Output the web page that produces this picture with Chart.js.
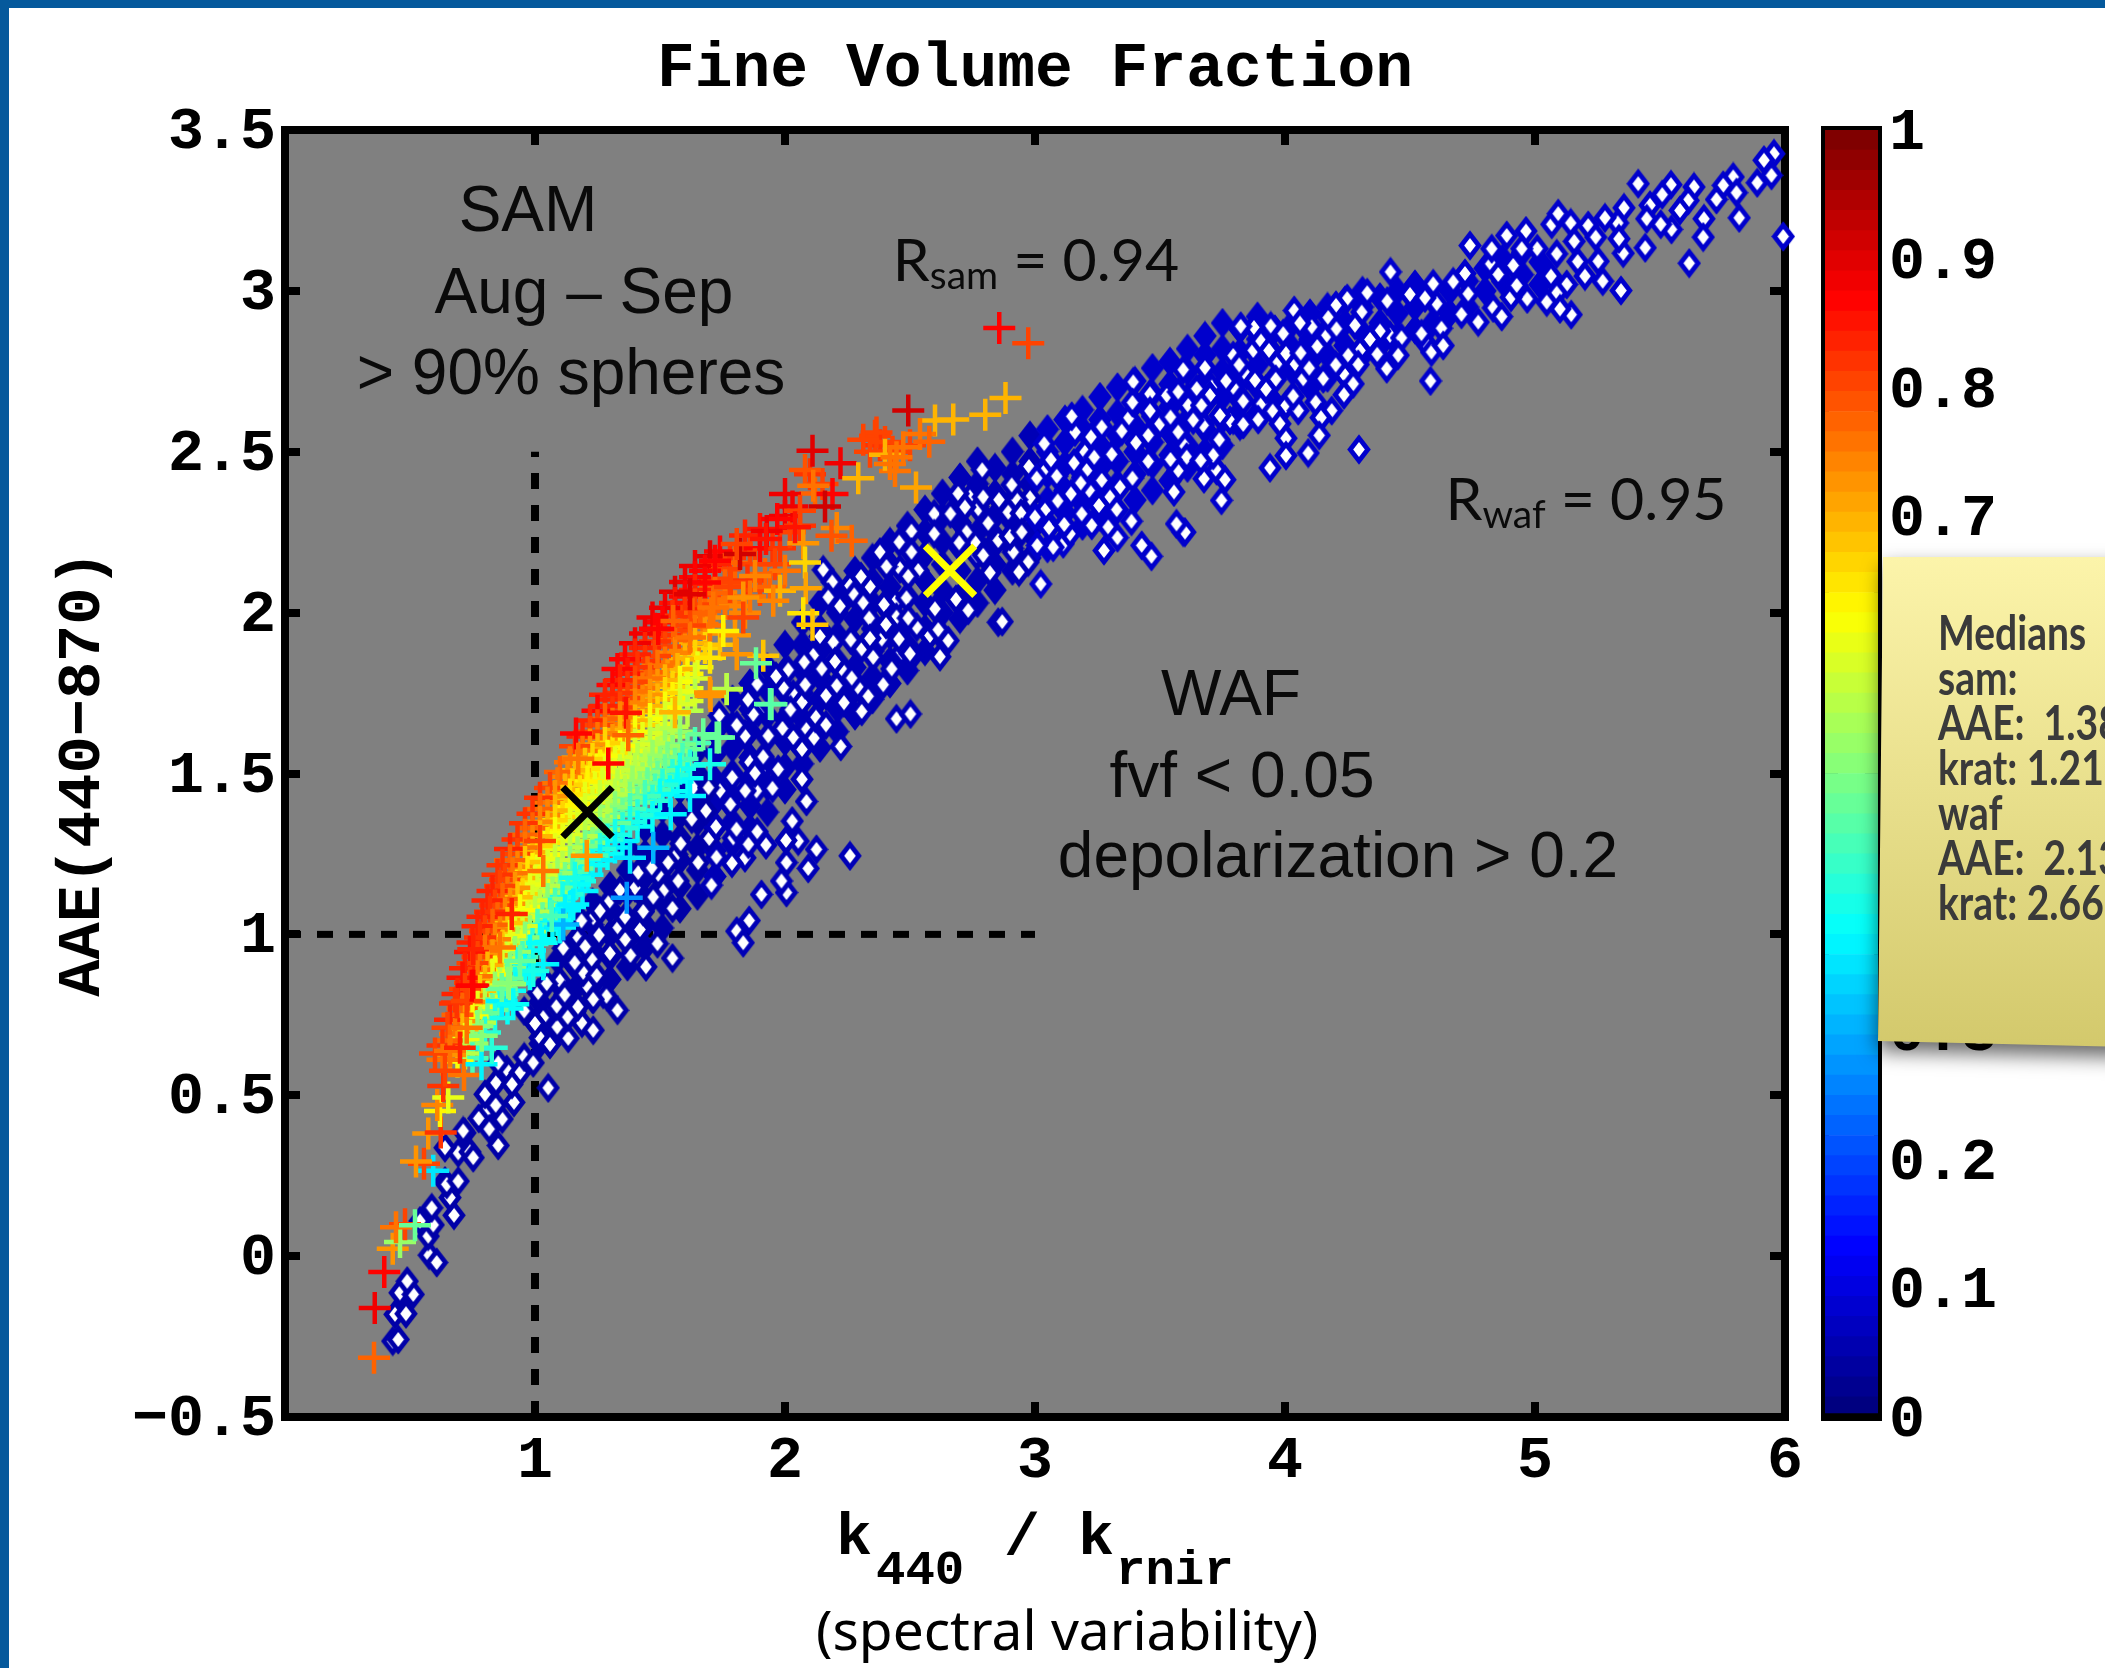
<!DOCTYPE html>
<html>
<head>
<meta charset="utf-8">
<script src="https://cdn.jsdelivr.net/npm/chart.js"></script>
<style>
  html, body { margin:0; padding:0; background:#fff; width:2105px; height:1668px; overflow:hidden; }
  canvas { position:absolute; left:0; top:0; }
  .edge { position:absolute; background:#05599c; }
  .lbl { position:absolute; transform:translate(-50%,-50%); white-space:nowrap; color:#0a0a0a; line-height:1; font-family:"Liberation Sans",sans-serif; font-size:64px; }
  .gill { font-family:Lato,sans-serif; font-size:59px; }
  .gill sub { font-size:39px; vertical-align:baseline; position:relative; top:8px; }
  .xlab { position:absolute; white-space:nowrap; font:bold 60px "Liberation Mono",monospace; color:#000; line-height:1; }
  .xlab.s { font-size:49px; }
  #note { position:absolute; left:1870px; top:549px; width:260px; height:510px; filter:drop-shadow(0 10px 10px rgba(0,0,0,.6)); }
  #paper { position:absolute; left:8px; top:8px; width:252px; height:490px;
    background:linear-gradient(#fcf4aa,#d3c96c);
    clip-path:polygon(5px 0,100% 0,100% 100%,0 98.8%,2px 60%); }
  #memo { position:absolute; left:1938px; top:610px; font:bold 47px/45px Lato,sans-serif; color:#3a3a3a; white-space:pre; transform:scaleX(.83); transform-origin:left top; }
</style>
</head>
<body>
<canvas id="barChart" width="2105" height="1668"></canvas>
<canvas id="myChart" width="2105" height="1668"></canvas>
<div class="edge" style="left:0;top:0;width:2105px;height:8px"></div>
<div class="edge" style="left:0;top:0;width:9px;height:1668px"></div>

<div class="lbl" style="left:528px;top:209px">SAM</div>
<div class="lbl" style="left:584px;top:291px">Aug – Sep</div>
<div class="lbl" style="left:571px;top:372px">&gt; 90% spheres</div>
<div class="lbl gill" style="left:1036px;top:258px">R<sub>sam</sub> = 0.94</div>
<div class="lbl gill" style="left:1586px;top:497px">R<sub>waf</sub> = 0.95</div>
<div class="lbl" style="left:1231px;top:693px">WAF</div>
<div class="lbl" style="left:1242px;top:775px">fvf &lt; 0.05</div>
<div class="lbl" style="left:1338px;top:855px">depolarization &gt; 0.2</div>

<div class="xlab" style="left:836px;top:1508px">k</div>
<div class="xlab s" style="left:876px;top:1547px">440</div>
<div class="xlab" style="left:1004px;top:1508px">/</div>
<div class="xlab" style="left:1078px;top:1508px">k</div>
<div class="xlab s" style="left:1116px;top:1547px">rnir</div>
<div class="xlab" style="left:816px;top:1596px;font:55px 'Noto Sans',sans-serif;line-height:1.2">(spectral variability)</div>

<div id="note"><div id="paper"></div></div>
<div id="memo">Medians
sam:
AAE:  1.38
krat: 1.21
waf
AAE:  2.13
krat: 2.66</div>

<script>
// values
var chartTitle = 'Fine Volume Fraction';
var yTitle = 'AAE(440\u2212870)';
var vLineX = [1, 1], vLineY = [-0.5, 2.5];
var hLineX = [0, 3], hLineY = [1, 1];
var samMedianX = [1.21], samMedianY = [1.38];
var wafMedianX = [2.66], wafMedianY = [2.13];
var barTicks = [0, 0.1, 0.2, 0.3, 0.4, 0.5, 0.6, 0.7, 0.8, 0.9, 1];

// WAF diamonds buried in the band, drawn solid since their centres never show
var wafHiddenX = [
 1.02,1.02,1.02, 1.09,1.09,1.09,1.09, 1.16,1.16,1.16,1.16, 1.23,1.23,1.23,1.23,1.23, 1.30,1.30,1.30,1.30,1.30,
 1.37,1.37,1.37,1.37,1.37,1.37, 1.44,1.44,1.44,1.44,1.44,1.44, 1.51,1.51,1.51,1.51,1.51,1.51, 1.58,1.58,1.58,1.58,1.58,1.58,
 1.65,1.65,1.65,1.65,1.65,1.65,1.65, 1.72,1.72,1.72,1.72,1.72,1.72,1.72, 1.79,1.79,1.79,1.79,1.79,1.79,1.79,
 1.86,1.86,1.86,1.86,1.86,1.86,1.86, 1.93,1.93,1.93,1.93,1.93,1.93,1.93, 2.0,2.0,2.0,2.0,2.0,2.0,2.0,
 2.07,2.07,2.07,2.07,2.07,2.07,2.07, 2.14,2.14,2.14,2.14,2.14,2.14,2.14, 2.21,2.21,2.21,2.21,2.21,2.21,2.21,
 2.28,2.28,2.28,2.28,2.28,2.28,2.28, 2.35,2.35,2.35,2.35,2.35,2.35,2.35, 2.42,2.42,2.42,2.42,2.42,2.42,2.42,
 2.49,2.49,2.49,2.49,2.49,2.49,2.49, 2.56,2.56,2.56,2.56,2.56,2.56,2.56, 2.63,2.63,2.63,2.63,2.63,2.63,2.63,
 2.70,2.70,2.70,2.70,2.70,2.70,2.70, 2.77,2.77,2.77,2.77,2.77,2.77,2.77, 2.84,2.84,2.84,2.84,2.84,2.84,
 2.91,2.91,2.91,2.91,2.91,2.91, 2.98,2.98,2.98,2.98,2.98,2.98, 3.05,3.05,3.05,3.05,3.05,3.05,
 3.12,3.12,3.12,3.12,3.12,3.12, 3.19,3.19,3.19,3.19,3.19,3.19, 3.26,3.26,3.26,3.26,3.26,3.26,
 3.33,3.33,3.33,3.33,3.33,3.33, 3.4,3.4,3.4,3.4,3.4,3.4, 3.47,3.47,3.47,3.47,3.47,3.47,
 3.54,3.54,3.54,3.54,3.54,3.54, 3.61,3.61,3.61,3.61,3.61,3.61, 3.68,3.68,3.68,3.68,3.68,3.68,
 3.75,3.75,3.75,3.75,3.75,3.75, 3.82,3.82,3.82,3.82,3.82, 3.89,3.89,3.89,3.89,3.89,
 3.96,3.96,3.96,3.96, 4.03,4.03,4.03,4.03, 4.1,4.1,4.1,4.1, 4.17,4.17,4.17,4.17, 4.24,4.24,4.24,4.24,
 4.31,4.31,4.31,4.31, 4.38,4.38,4.38, 4.45,4.45,4.45, 4.52,4.52,4.52, 4.59,4.59, 4.66,4.66, 4.73,4.73,
 4.8,4.8, 4.87,4.87, 4.95,4.95, 5.02,5.02
];
var wafHiddenY = [
 .66,.72,.79, .70,.78,.85,.92, .76,.83,.90,.98, .80,.88,.95,1.03,1.10, .86,.93,1.0,1.08,1.15,
 .90,.98,1.05,1.13,1.2,1.27, .96,1.03,1.11,1.18,1.25,1.33, 1.02,1.1,1.17,1.24,1.31,1.39, 1.08,1.15,1.23,1.30,1.37,1.45,
 1.12,1.2,1.27,1.35,1.42,1.5,1.57, 1.18,1.26,1.33,1.41,1.48,1.56,1.63, 1.28,1.35,1.43,1.5,1.58,1.65,1.73,
 1.33,1.4,1.48,1.55,1.63,1.7,1.78, 1.38,1.46,1.53,1.61,1.68,1.76,1.83, 1.45,1.52,1.6,1.67,1.75,1.82,1.9,
 1.53,1.6,1.67,1.75,1.82,1.9,1.97, 1.58,1.65,1.73,1.8,1.88,1.95,2.03, 1.63,1.7,1.78,1.85,1.93,2.0,2.07,
 1.68,1.76,1.83,1.9,1.98,2.05,2.13, 1.73,1.8,1.88,1.95,2.03,2.1,2.17, 1.78,1.85,1.93,2.0,2.08,2.15,2.22,
 1.82,1.9,1.97,2.05,2.12,2.2,2.27, 1.88,1.95,2.03,2.1,2.18,2.25,2.32, 1.92,2.0,2.07,2.15,2.22,2.3,2.37,
 1.98,2.05,2.13,2.2,2.28,2.35,2.42, 2.03,2.1,2.18,2.25,2.33,2.4,2.47, 2.07,2.15,2.22,2.3,2.37,2.45,
 2.13,2.2,2.28,2.35,2.43,2.5, 2.17,2.25,2.32,2.4,2.47,2.55, 2.2,2.28,2.35,2.43,2.5,2.57,
 2.23,2.31,2.38,2.46,2.53,2.6, 2.27,2.34,2.42,2.49,2.57,2.63, 2.3,2.37,2.45,2.52,2.6,2.67,
 2.32,2.4,2.47,2.55,2.62,2.7, 2.35,2.43,2.5,2.58,2.65,2.72, 2.38,2.46,2.53,2.61,2.68,2.76,
 2.41,2.49,2.56,2.64,2.71,2.78, 2.45,2.52,2.6,2.67,2.75,2.82, 2.5,2.57,2.65,2.72,2.8,2.86,
 2.52,2.6,2.67,2.75,2.82,2.9, 2.58,2.66,2.73,2.81,2.88, 2.62,2.7,2.77,2.85,2.92,
 2.65,2.73,2.8,2.88, 2.67,2.75,2.82,2.9, 2.7,2.78,2.85,2.93, 2.73,2.8,2.88,2.95, 2.75,2.83,2.9,2.97,
 2.8,2.87,2.95,3.0, 2.83,2.9,2.98, 2.86,2.93,3.0, 2.88,2.95,3.02, 2.9,2.97, 2.93,3.0, 2.95,3.03,
 3.0,3.07, 3.03,3.1, 3.05,3.12, 3.02,3.09
];

// WAF diamonds, partly covered ones first so the clear ones sit on top
var wafX = [
 2.38,2.46,2.533,2.26,2.44,2.527,2.446,2.193,2.387,2.307,2.113,2.233,2.293,2.207,2.033,1.993,1.893,1.84,2.073,1.86,2.513,2.427,2.467,2.58,2.653,2.767,2.8,2.767,
 3.16,3.2,3.373,3.527,3.46,3.207,3.04,3.217,3.267,2.98,2.927,3.04,2.893,2.944,2.74,2.773,2.76,2.793,2.853,2.913,2.973,3.113,3.073,3.14,3.227,3.293,3.593,3.5,3.573,3.727,3.673,3.606,3.793,
 3.793,3.873,3.973,3.847,3.793,3.707,3.7,3.647,3.613,3.673,3.78,3.907,4.004,4.053,4.187,4.107,4.167,4.307,4.3,4.447,4.56,4.607,4.407,4.24,4.073,4.04,3.593,3.607,3.727,3.6,4.42,
 1.173,1.293,1.333,1.233,1.433,1.513,1.4,1.493,1.567,1.633,1.74,1.78,1.84,1.873,1.9,1.793,1.84,2.006,2.053,1.807,1.886,1.993,2.087,
 1.26,1.227,1.1,1.013,1.033,.887,.94,.807,.72,.693,.64,1.02,1.273,
 .431,.453,.44,.484,.46,.513,.489,.577,.607,.573,.593,.587,.54,.676,.66,.647,.693,.64,.74,.753,.713,
 .853,.775,.869,.817,.843,.80,.916,.844,.908,1.053,.957,.853,.993,1.06,1.0,.957,1.089,1.133,1.131,1.188,1.233,1.33,1.172,1.087,1.119,1.047,1.212,1.193,1.247,1.286,1.233,1.159,1.113,1.201,1.30,1.382,1.444,1.55,1.49,1.361,1.42,1.256,1.36,1.186,1.433,1.55,
 1.473,1.34,1.413,1.467,1.573,1.706,1.533,1.653,1.788,1.583,1.697,1.726,1.854,1.924,2.004,2.029,1.889,1.806,1.724,1.627,1.684,1.782,1.841,1.95,1.694,2.086,2.068,1.973,1.88,1.789,1.913,2.068,2.116,2.033,1.99,1.933,2.121,2.068,2.022,1.852,1.807,1.737,1.889,2.081,2.006,2.093,1.986,1.906,1.857,1.833,2.126,2.26,
 2.693,2.796,2.597,2.662,2.72,2.813,2.506,2.597,2.726,2.697,2.457,2.506,2.406,2.153,2.493,2.34,2.189,2.304,2.82,2.173,2.22,2.277,2.313,2.396,2.486,2.684,2.6,2.733,2.337,2.493,2.404,2.613,2.14,2.263,2.34,2.456,2.62,2.353,2.2,2.077,2.147,2.013,1.964,2.267,2.393,2.164,2.333,2.236,2.307,2.124,2.164,2.223,2.446,2.502,2.5,2.853,
 3.393,3.573,3.76,3.39,3.833,3.46,3.147,3.542,3.666,3.74,3.633,3.347,3.267,3.833,3.453,3.224,3.573,3.404,3.737,3.037,3.307,3.237,3.156,3.064,3.453,3.542,3.713,2.976,2.789,3.087,3.007,3.39,3.676,3.76,3.183,2.907,3.34,3.556,3.746,2.793,2.856,3.144,3.3,3.091,3.256,3.327,3.187,3.0,3.386,3.056,3.117,3.566,2.9,3.33,3.009,3.427,3.276,3.466,2.936,3.023,2.869,2.947,
 4.422,4.72,4.593,4.673,4.329,4.5,4.56,4.733,4.249,4.409,4.204,4.037,4.706,4.173,4.06,3.943,3.876,3.823,4.626,4.38,4.28,3.993,4.206,3.904,4.466,4.34,4.129,4.546,4.586,3.936,4.369,4.253,4.004,4.063,3.817,3.68,3.593,4.203,4.097,4.293,3.764,3.963,4.153,4.582,4.273,3.924,4.236,4.033,3.833,4.123,3.951,3.893,4.144,3.98,3.833,4.004,4.137,3.663,3.94,4.093,4.296,4.004,4.773,4.633,4.453,3.88,
 5.956,5.916,5.946,5.889,5.793,5.753,5.806,5.726,5.636,5.544,5.509,5.413,5.613,5.58,5.546,5.676,5.46,5.447,5.503,5.356,5.331,5.28,5.213,5.243,5.143,5.067,5.093,4.964,4.887,5.817,5.993,5.617,5.441,5.353,5.336,5.009,4.947,5.087,5.157,5.253,5.171,5.2,5.271,5.344,5.127,5.064,5.087,5.145,5.1,5.047,4.969,4.904,4.913,4.823,4.74,4.827,4.853,4.833,4.867,5.673,4.927
];
var wafY = [
 2.188,2.136,2.131,2.084,2.032,1.955,1.986,1.908,1.918,1.887,1.867,1.818,1.768,1.773,1.747,1.768,1.69,1.623,1.638,1.535,1.867,1.825,1.877,1.929,1.913,2.178,2.188,2.214,
 2.561,2.499,2.603,2.675,2.68,2.442,2.442,2.38,2.411,2.357,2.351,2.318,2.312,2.309,2.359,2.323,2.219,2.178,2.224,2.188,2.157,2.214,2.203,2.245,2.271,2.266,2.25,2.587,2.442,2.442,2.587,2.478,2.598,
 2.799,2.815,2.779,2.737,2.701,2.701,2.675,2.696,2.644,2.582,2.597,2.649,2.644,2.628,2.628,2.888,2.862,2.934,2.815,2.8,2.841,2.96,2.758,2.737,2.727,2.774,2.525,2.483,2.442,2.25,2.862,
 .99,1.098,1.021,1.052,1.072,1.135,1.145,1.187,1.249,1.456,1.446,1.404,1.617,1.684,1.508,1.3,1.238,1.13,1.29,1.01,1.446,1.767,1.638,
 1.073,.923,.855,.819,.741,.58,.57,.451,.383,.321,.233,.679,.814,
 -.264,-.259,-.181,-.179,-.114,-.119,-.078,.003,-.02,.062,.097,.15,.109,.127,.182,.223,.233,.337,.324,.306,.389,
 .344,.428,.426,.395,.469,.503,.478,.539,.534,.523,.619,.601,.601,.658,.723,.762,.712,.677,.743,.724,.702,.764,.775,.777,.812,.847,.836,.882,.872,.808,.798,.912,.957,.962,.941,.935,.899,.926,.971,.984,1.015,.998,1.054,1.042,1.071,1.081,
 1.116,1.137,1.192,1.207,1.166,1.153,1.223,1.223,1.221,1.282,1.298,1.24,1.28,1.278,1.292,1.352,1.319,1.327,1.335,1.358,1.384,1.404,1.446,1.454,1.456,1.413,1.482,1.513,1.501,1.488,1.552,1.575,1.61,1.612,1.64,1.617,1.672,1.721,1.698,1.729,1.65,1.68,1.778,1.776,1.223,1.205,1.166,1.124,1.043,.974,1.264,1.244,
 2.37,2.361,2.307,2.307,2.328,2.278,2.253,2.245,2.25,2.217,2.219,2.188,2.143,2.133,2.113,2.081,2.095,2.112,2.124,2.048,2.02,2.055,2.03,2.025,2.046,2.041,2.012,2.007,1.983,1.983,1.963,1.947,1.926,1.915,1.92,1.918,1.863,1.861,1.848,1.846,1.825,1.822,1.802,1.797,1.776,1.742,1.74,1.72,1.693,1.675,1.651,1.584,1.67,1.685,1.872,1.97,
 2.717,2.686,2.717,2.653,2.658,2.627,2.61,2.608,2.644,2.613,2.598,2.564,2.577,2.587,2.551,2.546,2.561,2.528,2.537,2.525,2.492,2.483,2.465,2.475,2.47,2.476,2.489,2.454,2.444,2.424,2.418,2.418,2.416,2.413,2.403,2.397,2.39,2.375,2.349,2.359,2.351,2.369,2.359,2.347,2.333,2.32,2.307,2.297,2.284,2.264,2.274,2.276,2.237,2.233,2.209,2.209,2.193,2.175,2.126,2.089,1.972,2.25,
 3.059,3.054,3.022,3.028,2.994,2.989,2.978,2.991,2.976,2.968,2.955,2.939,2.927,2.917,2.9,2.891,2.886,2.89,2.884,2.875,2.893,2.867,2.882,2.844,2.854,2.849,2.827,2.867,2.81,2.815,2.803,2.8,2.805,2.807,2.77,2.761,2.755,2.77,2.76,2.771,2.72,2.725,2.727,2.72,2.711,2.694,2.677,2.673,2.657,2.654,2.626,2.6,2.606,2.587,2.585,2.542,2.551,2.473,2.45,2.496,2.507,2.488,2.903,2.83,2.8,2.722,
 3.426,3.406,3.359,3.336,3.354,3.328,3.305,3.284,3.323,3.33,3.299,3.333,3.281,3.25,3.191,3.224,3.266,3.224,3.207,3.258,3.211,3.227,3.203,3.167,3.211,3.207,3.24,3.186,3.172,3.227,3.169,3.086,3.134,3.117,3.162,3.131,3.131,3.115,3.154,3.092,3.091,3.046,3.03,3.001,3.02,3.046,2.993,2.926,2.944,2.965,2.975,2.98,3.079,3.084,3.141,3.131,3.051,2.947,2.92,3.167,3.017
];

// SAM crosses packed in the cloud, one row per line from low to high y
var cloudX = [
 .60,.63,.66,.69,.72,.75,
 .63,.66,.69,.72,.75,.78,
 .65,.68,.71,.74,.77,.80,
 .66,.69,.72,.75,.78,.81,.84,
 .68,.71,.74,.77,.80,.83,.86,.89,
 .69,.72,.75,.78,.81,.84,.87,.90,
 .71,.74,.77,.80,.83,.86,.89,.92,
 .72,.75,.78,.81,.84,.87,.90,.93,.96,
 .74,.77,.80,.83,.86,.89,.92,.95,.98,
 .75,.78,.81,.84,.87,.90,.93,.96,.99,1.02,
 .77,.80,.83,.86,.89,.92,.95,.98,1.01,1.04,1.07,
 .79,.82,.85,.88,.91,.94,.97,1.0,1.03,1.06,1.09,1.12,
 .81,.84,.87,.90,.93,.96,.99,1.02,1.05,1.08,1.11,1.14,
 .83,.86,.89,.92,.95,.98,1.01,1.04,1.07,1.10,1.13,1.16,1.19,
 .85,.88,.91,.94,.97,1.0,1.03,1.06,1.09,1.12,1.15,1.18,1.21,
 .87,.90,.93,.96,.99,1.02,1.05,1.08,1.11,1.14,1.17,1.20,1.23,1.26,
 .90,.93,.96,.99,1.02,1.05,1.08,1.11,1.14,1.17,1.20,1.23,1.26,1.29,1.32,
 .93,.96,.99,1.02,1.05,1.08,1.11,1.14,1.17,1.20,1.23,1.26,1.29,1.32,1.35,
 .96,.99,1.02,1.05,1.08,1.11,1.14,1.17,1.20,1.23,1.26,1.29,1.32,1.35,1.38,1.41,
 .99,1.02,1.05,1.08,1.11,1.14,1.17,1.20,1.23,1.26,1.29,1.32,1.35,1.38,1.41,1.44,1.47,
 1.02,1.05,1.08,1.11,1.14,1.17,1.20,1.23,1.26,1.29,1.32,1.35,1.38,1.41,1.44,1.47,1.50,
 1.06,1.09,1.12,1.15,1.18,1.21,1.24,1.27,1.30,1.33,1.36,1.39,1.42,1.45,1.48,1.51,1.54,1.57,
 1.10,1.13,1.16,1.19,1.22,1.25,1.28,1.31,1.34,1.37,1.40,1.43,1.46,1.49,1.52,1.55,1.58,1.61,
 1.14,1.17,1.20,1.23,1.26,1.29,1.32,1.35,1.38,1.41,1.44,1.47,1.50,1.53,1.56,1.59,1.62,
 1.16,1.19,1.22,1.25,1.28,1.31,1.34,1.37,1.40,1.43,1.46,1.49,1.52,1.55,1.58,1.61,1.64,
 1.19,1.22,1.25,1.28,1.31,1.34,1.37,1.40,1.43,1.46,1.49,1.52,1.55,1.58,
 1.22,1.25,1.28,1.31,1.34,1.37,1.40,1.43,1.46,1.49,1.52,1.55,
 1.25,1.28,1.31,1.34,1.37,1.40,1.43,1.46,1.49,1.52,1.55,1.58,1.61,
 1.28,1.31,1.34,1.37,1.40,1.43,1.46,1.49,1.52,1.55,1.58,1.61,1.64,
 1.31,1.34,1.37,1.40,1.43,1.46,1.49,1.52,1.55,1.58,1.61,1.64,
 1.33,1.37,1.41,1.45,1.49,1.53,1.57,1.61,1.65,
 1.36,1.40,1.44,1.48,1.52,1.56,1.60,1.64,
 1.40,1.44,1.48,1.52,1.56,1.60,1.64,1.68,
 1.44,1.48,1.52,1.56,1.60,1.64,1.68,
 1.47,1.51,1.55,1.59,1.63,1.67,1.71,
 1.52,1.56,1.60,1.64,1.68,1.72,
 1.56,1.60,1.64,1.68,1.72,1.76,
 1.60,1.64,1.68,1.72,1.76,
 1.64,1.68,1.72,1.76,1.80,
 1.70,1.74,1.78,1.82
];
var cloudY = [
 .63,.61,.625,.605,.63,.615,
 .655,.67,.65,.675,.66,.645,
 .71,.69,.705,.685,.715,.695,
 .735,.75,.73,.745,.725,.755,.74,
 .785,.77,.79,.775,.795,.765,.785,.77,
 .815,.83,.81,.825,.805,.835,.815,.825,
 .865,.85,.87,.855,.875,.845,.865,.85,
 .895,.91,.89,.905,.885,.915,.895,.91,.89,
 .945,.93,.95,.935,.955,.925,.945,.93,.95,
 .975,.99,.97,.985,.965,.995,.975,.99,.97,.985,
 1.025,1.01,1.03,1.015,1.035,1.005,1.025,1.01,1.03,1.015,1.035,
 1.055,1.07,1.05,1.065,1.045,1.075,1.055,1.07,1.05,1.065,1.045,1.075,
 1.105,1.09,1.11,1.095,1.115,1.085,1.105,1.09,1.11,1.095,1.115,1.085,
 1.135,1.15,1.13,1.145,1.125,1.155,1.135,1.15,1.13,1.145,1.125,1.155,1.135,
 1.185,1.17,1.19,1.175,1.195,1.165,1.185,1.17,1.19,1.175,1.195,1.165,1.185,
 1.215,1.23,1.21,1.225,1.205,1.235,1.215,1.23,1.21,1.225,1.205,1.235,1.215,1.23,
 1.265,1.25,1.27,1.255,1.275,1.245,1.265,1.25,1.27,1.255,1.275,1.245,1.265,1.25,1.27,
 1.295,1.31,1.29,1.305,1.285,1.315,1.295,1.31,1.29,1.305,1.285,1.315,1.295,1.31,1.29,
 1.345,1.33,1.35,1.335,1.355,1.325,1.345,1.33,1.35,1.335,1.355,1.325,1.345,1.33,1.35,1.335,
 1.375,1.39,1.37,1.385,1.365,1.395,1.375,1.39,1.37,1.385,1.365,1.395,1.375,1.39,1.37,1.385,1.365,
 1.425,1.41,1.43,1.415,1.435,1.405,1.425,1.41,1.43,1.415,1.435,1.405,1.425,1.41,1.43,1.415,1.435,
 1.455,1.47,1.45,1.465,1.445,1.475,1.455,1.47,1.45,1.465,1.445,1.475,1.455,1.47,1.45,1.465,1.445,1.475,
 1.505,1.49,1.51,1.495,1.515,1.485,1.505,1.49,1.51,1.495,1.515,1.485,1.505,1.49,1.51,1.495,1.515,1.485,
 1.535,1.55,1.53,1.545,1.525,1.555,1.535,1.55,1.53,1.545,1.525,1.555,1.535,1.55,1.53,1.545,1.525,
 1.585,1.57,1.59,1.575,1.595,1.565,1.585,1.57,1.59,1.575,1.595,1.565,1.585,1.57,1.59,1.575,1.595,
 1.615,1.63,1.61,1.625,1.605,1.635,1.615,1.63,1.61,1.625,1.605,1.635,1.615,1.63,
 1.665,1.65,1.67,1.655,1.675,1.645,1.665,1.65,1.67,1.655,1.675,1.645,
 1.695,1.71,1.69,1.705,1.685,1.715,1.695,1.71,1.69,1.705,1.685,1.715,1.695,
 1.745,1.73,1.75,1.735,1.755,1.725,1.745,1.73,1.75,1.735,1.755,1.725,1.745,
 1.775,1.79,1.77,1.785,1.765,1.795,1.775,1.79,1.77,1.785,1.765,1.795,
 1.825,1.81,1.83,1.815,1.835,1.805,1.825,1.81,1.83,
 1.855,1.87,1.85,1.865,1.845,1.875,1.855,1.87,
 1.905,1.89,1.91,1.895,1.915,1.885,1.905,1.89,
 1.935,1.95,1.93,1.945,1.925,1.955,1.935,
 1.985,1.97,1.99,1.975,1.995,1.965,1.985,
 2.015,2.03,2.01,2.025,2.005,2.035,
 2.065,2.05,2.07,2.055,2.075,2.045,
 2.095,2.11,2.09,2.105,2.085,
 2.145,2.13,2.15,2.135,2.155,
 2.175,2.19,2.17,2.185
];
var cloudFvf = [
 .8,.76,.72,.62,.55,.44,
 .82,.78,.72,.6,.53,.42,
 .8,.76,.7,.58,.5,.42,
 .84,.78,.72,.62,.55,.47,.4,
 .82,.78,.72,.6,.55,.47,.4,.38,
 .84,.8,.75,.68,.58,.53,.44,.39,
 .85,.8,.76,.7,.6,.55,.47,.4,
 .83,.8,.76,.7,.62,.58,.5,.42,.38,
 .85,.8,.76,.72,.64,.58,.53,.44,.39,
 .84,.82,.78,.74,.68,.6,.56,.5,.42,.38,
 .84,.8,.78,.74,.68,.6,.58,.52,.44,.39,.37,
 .84,.82,.78,.74,.7,.62,.58,.55,.47,.42,.38,.36,
 .83,.8,.78,.72,.68,.62,.58,.55,.5,.44,.4,.37,
 .84,.8,.76,.72,.66,.6,.58,.56,.52,.47,.42,.38,.36,
 .82,.8,.76,.7,.65,.6,.58,.56,.53,.49,.44,.4,.37,
 .82,.78,.74,.68,.64,.6,.58,.57,.55,.5,.47,.42,.38,.36,
 .84,.8,.76,.7,.66,.62,.6,.58,.56,.53,.49,.44,.41,.38,.36,
 .82,.78,.74,.7,.65,.62,.6,.58,.57,.55,.5,.47,.42,.4,.37,
 .82,.78,.74,.7,.66,.64,.6,.58,.57,.56,.53,.5,.47,.42,.4,.38,
 .82,.78,.74,.7,.66,.63,.6,.58,.57,.56,.55,.5,.47,.44,.42,.4,.38,
 .82,.76,.72,.68,.65,.63,.6,.58,.57,.56,.55,.52,.49,.47,.44,.41,.39,
 .8,.76,.7,.67,.65,.63,.6,.58,.57,.56,.55,.52,.5,.47,.44,.41,.39,.38,
 .78,.74,.7,.66,.65,.63,.6,.58,.57,.56,.55,.52,.5,.48,.47,.42,.4,.39,
 .76,.72,.68,.66,.64,.62,.6,.58,.57,.56,.55,.52,.5,.49,.47,.44,.42,
 .8,.76,.72,.7,.66,.65,.62,.6,.58,.57,.56,.55,.52,.5,.49,.47,.44,
 .84,.8,.76,.74,.72,.7,.66,.62,.6,.58,.57,.56,.55,.52,
 .84,.8,.78,.76,.74,.72,.7,.66,.62,.6,.58,.56,
 .86,.84,.82,.8,.76,.74,.72,.7,.66,.62,.6,.58,.56,
 .84,.84,.82,.8,.76,.74,.72,.7,.67,.63,.6,.58,.56,
 .86,.84,.82,.8,.76,.75,.72,.7,.66,.62,.6,.58,
 .86,.85,.82,.78,.75,.72,.7,.64,.6,
 .86,.84,.82,.8,.76,.74,.7,.66,
 .88,.84,.82,.8,.77,.74,.7,.67,
 .88,.86,.82,.8,.78,.75,.72,
 .88,.86,.82,.8,.78,.75,.72,
 .88,.85,.83,.8,.78,.76,
 .9,.86,.84,.8,.78,.76,
 .88,.86,.84,.8,.78,
 .88,.86,.84,.8,.77,
 .9,.86,.82,.8
];

// SAM crosses that can be picked out one by one
var samX = [
 1.9,1.95,2.0,1.86,1.84,1.9,1.98,2.02,2.03,2.06,1.88,1.92,1.96,2.0,1.85,1.9,1.94,2.12,2.1,2.15,
 1.6,1.66,1.7,1.76,1.8,1.84,1.62,1.72,1.78,1.86,1.74,1.8,1.7,
 2.36,2.38,2.34,2.4,2.43,2.44,2.5,
 .356,.359,.397,.431,.46,.48,.444,.52,.593,.556,.524,.573,.623,.62,.609,.653,.633,.716,.64,.786,.66,.7,.827,.787,.727,.867,.687,.753,.727,.867,.9,.98,1.033,
 .913,.893,.747,.753,.86,.907,1.067,1.027,.993,.94,1.1,
 1.164,1.173,1.293,1.364,1.373,1.56,1.702,1.767,1.946,1.673,1.736,1.7,1.62,1.543,1.473,1.207,1.367,1.38,1.02,1.033,1.16,1.113,1.067,1.153,
 2.857,2.973,2.882,2.801,2.673,2.6,2.493,2.54,2.577,2.366,2.313,2.4,2.446,2.42,2.473,2.524,2.11,2.08,2.222,2.293,2.113,2.19,2.0,2.16,2.06,1.969,2.207,2.186,2.267,2.073,2.04,1.927,1.924,1.82,1.807,1.72,2.08,1.88,1.783,1.68,1.98,2.083,1.953,1.833,1.62,2.073,2.11,1.833,1.753,1.62,1.553,1.493,1.713,1.913,1.807,1.884,1.767,1.94,1.7,1.727
];
var samY = [
 2.26,2.2,2.3,2.2,2.24,2.2,2.2,2.25,2.33,2.27,2.15,2.12,2.15,2.13,2.1,2.07,2.08,2.37,2.43,2.4,
 2.0,2.0,1.96,2.03,2.02,2.0,1.96,2.06,2.08,2.05,1.9,1.93,1.86,
 2.55,2.52,2.5,2.53,2.5,2.44,2.52,
 -.316,-.161,-.049,.023,.044,.099,.09,.096,.265,.287,.294,.381,.384,.451,.47,.493,.529,.563,.576,.596,.638,.648,.648,.685,.71,.793,.788,.84,.793,.83,.845,.876,.907,
 .783,.85,.84,.954,.959,1.063,1.057,.974,.886,.917,1.021,
 1.624,1.546,1.531,1.689,1.619,1.69,1.741,1.762,1.715,1.622,1.612,1.529,1.43,1.373,1.269,1.244,1.114,1.238,1.29,1.197,1.176,1.031,1.057,1.093,
 2.885,2.837,2.667,2.615,2.6,2.597,2.628,2.555,2.531,2.56,2.537,2.491,2.483,2.462,2.514,2.389,2.503,2.443,2.464,2.418,2.394,2.369,2.369,2.33,2.317,2.291,2.263,2.239,2.223,2.216,2.265,2.254,2.229,2.182,2.213,2.161,2.156,2.114,2.094,2.094,2.068,2.076,2.037,2.047,2.057,1.998,1.962,1.985,1.943,1.923,1.974,1.949,2.016,1.866,1.871,1.843,1.763,1.716,1.752,1.612
];
var samFvf = [
 .85,.82,.88,.8,.84,.86,.82,.8,.88,.82,.8,.78,.8,.76,.82,.8,.78,.78,.82,.8,
 .82,.78,.75,.76,.74,.74,.8,.78,.8,.76,.68,.72,.65,
 .8,.82,.8,.81,.8,.76,.8,
 .78,.88,.87,.72,.53,.8,.75,.47,.35,.8,.73,.72,.82,.63,.74,.6,.82,.75,.8,.36,.76,.83,.42,.5,.75,.37,.82,.86,.8,.48,.52,.38,.36,
 .38,.5,.87,.83,.75,.83,.48,.38,.4,.47,.36,
 .87,.75,.87,.85,.78,.7,.72,.6,.47,.47,.47,.4,.36,.36,.3,.72,.27,.35,.8,.75,.4,.3,.45,.37,
 .87,.8,.7,.7,.7,.7,.92,.76,.78,.8,.8,.7,.75,.76,.75,.71,.9,.79,.88,.7,.75,.86,.88,.92,.8,.87,.74,.79,.78,.73,.85,.89,.85,.91,.8,.87,.67,.74,.8,.87,.7,.71,.74,.72,.9,.65,.68,.8,.63,.76,.78,.87,.75,.68,.72,.47,.56,.46,.72,.47
];

function jet(v) {
  var level = Math.min(63, Math.floor(v * 64)) / 63;
  var f = function (c) { return Math.round(255 * Math.max(0, Math.min(1, 1.5 - Math.abs(4 * level - c)))); };
  return 'rgb(' + f(3) + ',' + f(2) + ',' + f(1) + ')';
}

function pairs(xs, ys) {
  return xs.map(function (x, i) { return { x: x, y: ys[i] }; });
}

function diamond(color, centre) {
  var c = document.createElement('canvas');
  c.width = 24; c.height = 31;
  var ctx = c.getContext('2d');
  function poly(hw, hh, col) {
    ctx.fillStyle = col;
    ctx.beginPath();
    ctx.moveTo(12, 15.5 - hh); ctx.lineTo(12 + hw, 15.5); ctx.lineTo(12, 15.5 + hh); ctx.lineTo(12 - hw, 15.5);
    ctx.closePath();
    ctx.fill();
  }
  poly(11.8, 15.2, color);
  if (centre) poly(5.8, 7.4, '#fff');
  return c;
}
var diaDark = diamond('#0000a8', true), diaMid = diamond('#0000b6', true), diaBright = diamond('#0000cc', true);
var solidDark = diamond('#0000a8', false), solidMid = diamond('#0000b6', false), solidBright = diamond('#0000cc', false);
function diaFor(x) { return x < 1.7 ? diaDark : (x < 3 ? diaMid : diaBright); }
function solidFor(x) { return x < 1.7 ? solidDark : (x < 3 ? solidMid : solidBright); }

var plotBg = {
  id: 'plotBg',
  beforeDraw: function (chart) {
    var a = chart.chartArea, ctx = chart.ctx;
    ctx.save();
    ctx.fillStyle = '#808080';
    ctx.fillRect(a.left, a.top, a.right - a.left, a.bottom - a.top);
    ctx.restore();
  }
};

var tickGrid = { drawOnChartArea: false, drawTicks: true, tickLength: -15, tickWidth: 8, tickColor: '#000', color: '#000', lineWidth: 8 };
var frame = { display: true, width: 8, color: '#000' };
var monoFont = { family: 'Liberation Mono', weight: 'bold', size: 60 };

new Chart(document.getElementById('myChart'), {
  type: 'scatter',
  data: {
    datasets: [
      { type: 'line', data: pairs(vLineX, vLineY), borderColor: '#000', borderWidth: 8, borderDash: [16, 16], pointRadius: 0, order: 8, clip: false },
      { type: 'line', data: pairs(hLineX, hLineY), borderColor: '#000', borderWidth: 7, borderDash: [16, 16], pointRadius: 0, order: 8, clip: false },
      { data: pairs(wafHiddenX, wafHiddenY), pointRadius: 4, clip: false, order: 7,
        pointStyle: function (ctx) { return solidFor(wafHiddenX[ctx.dataIndex]); } },
      { data: pairs(wafX, wafY), pointRadius: 4, clip: false, order: 6,
        pointStyle: function (ctx) { return diaFor(wafX[ctx.dataIndex]); } },
      { data: pairs(cloudX, cloudY).reverse(), pointStyle: 'cross', pointRadius: 16, pointBorderWidth: 4.5, clip: false, order: 5,
        pointBorderColor: cloudFvf.map(jet).reverse(), pointBackgroundColor: cloudFvf.map(jet).reverse() },
      { data: pairs(samX, samY), pointStyle: 'cross', pointRadius: 16, pointBorderWidth: 4.5, clip: false, order: 4,
        pointBorderColor: samFvf.map(jet), pointBackgroundColor: samFvf.map(jet) },
      { data: pairs(samMedianX, samMedianY), pointStyle: 'crossRot', pointRadius: 35, pointBorderWidth: 7, pointBorderColor: '#000', order: 2 },
      { data: pairs(wafMedianX, wafMedianY), pointStyle: 'crossRot', pointRadius: 35, pointBorderWidth: 7, pointBorderColor: '#ffff00', order: 1 }
    ]
  },
  options: {
    responsive: false,
    animation: false,
    events: [],
    layout: { padding: 0 },
    plugins: {
      legend: { display: false },
      tooltip: { enabled: false },
      title: { display: true, text: chartTitle, fullSize: false, color: '#000',
        font: { family: 'Liberation Mono', weight: 'bold', size: 63 }, padding: { top: 32, bottom: 22.4 } }
    },
    scales: {
      x: { type: 'linear', position: 'bottom', min: 0, max: 6, grid: tickGrid, border: frame,
        ticks: { stepSize: 1, color: '#000', font: monoFont, padding: 24, maxRotation: 0,
          callback: function (v) { return v === 0 ? '' : String(v); } },
        afterFit: function (s) { s.height = 251; } },
      y: { type: 'linear', position: 'left', min: -0.5, max: 3.5, grid: tickGrid, border: frame,
        title: { display: true, text: yTitle, color: '#000', font: { family: 'Liberation Mono', weight: 'bold', size: 62 }, padding: { top: 46, bottom: 0 } },
        ticks: { stepSize: 0.5, color: '#000', font: monoFont, padding: 24, labelOffset: 3,
          callback: function (v) { return String(v).replace('-', '\u2212'); } },
        afterFit: function (s) { s.width = 285; } },
      xTop: { type: 'linear', position: 'top', min: 0, max: 6, grid: tickGrid, border: frame,
        ticks: { display: false, stepSize: 1 }, afterFit: function (s) { s.height = 0; } },
      yRight: { type: 'linear', position: 'right', min: -0.5, max: 3.5, grid: tickGrid, border: frame,
        ticks: { display: false, stepSize: 0.5 }, afterFit: function (s) { s.width = 320; } }
    }
  },
  plugins: [plotBg]
});

// colour bar on its own canvas, 64 levels
var barSets = [];
for (var i = 0; i < 64; i++) {
  barSets.push({ data: [[i / 64, (i + 1) / 64]], backgroundColor: jet((i + 0.5) / 64), grouped: false, barPercentage: 1, categoryPercentage: 1, borderWidth: 0 });
}
var barGrid = Object.assign({}, tickGrid, { tickLength: -13 });
new Chart(document.getElementById('barChart'), {
  type: 'bar',
  data: { labels: ['fvf'], datasets: barSets },
  options: {
    responsive: false,
    animation: false,
    events: [],
    layout: { padding: { left: 1825, top: 130 } },
    plugins: { legend: { display: false }, tooltip: { enabled: false } },
    scales: {
      x: { type: 'category', position: 'bottom', offset: true, grid: { display: false }, border: frame,
        ticks: { display: false }, afterFit: function (s) { s.height = 251; } },
      xTop: { type: 'category', position: 'top', offset: true, labels: ['fvf'], grid: { display: false }, border: frame,
        ticks: { display: false }, afterFit: function (s) { s.height = 0; } },
      y: { type: 'linear', position: 'right', min: 0, max: 1, grid: barGrid, border: frame,
        afterBuildTicks: function (s) { s.ticks = barTicks.map(function (v) { return { value: v }; }); },
        ticks: { color: '#000', font: monoFont, padding: 24, labelOffset: 4, callback: function (v) { return String(v); } },
        afterFit: function (s) { s.width = 227; } },
      yLeft: { type: 'linear', position: 'left', min: 0, max: 1, grid: barGrid, border: frame,
        afterBuildTicks: function (s) { s.ticks = barTicks.map(function (v) { return { value: v }; }); },
        ticks: { display: false }, afterFit: function (s) { s.width = 0; } }
    }
  }
});
</script>
</body>
</html>
